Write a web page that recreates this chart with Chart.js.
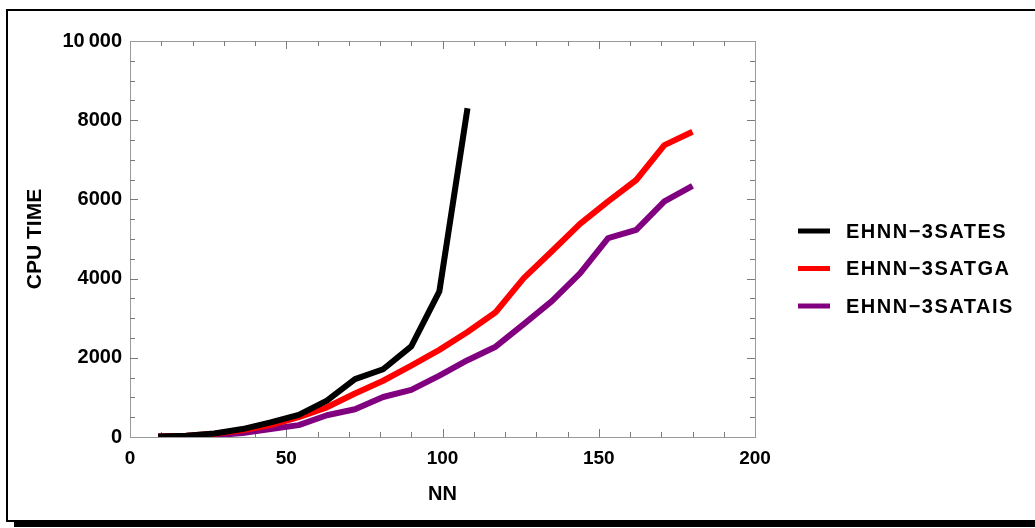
<!DOCTYPE html>
<html>
<head>
<meta charset="utf-8">
<script src="https://cdn.jsdelivr.net/npm/chart.js@4.4.1/dist/chart.umd.min.js"></script>
<style>
  html, body { margin: 0; padding: 0; background: #fff; }
  #frame {
    position: absolute; left: 6px; top: 9px; width: 1100px; height: 509px;
    border: 2px solid #000; box-shadow: 8px 5px 0 #000; background: #fff;
  }
  #chart { position: absolute; left: 0; top: 0; }
</style>
</head>
<body>
<div id="frame"></div>
<canvas id="chart" width="1035" height="528"></canvas>
<script>
// NN values (x axis)
const nn = [9, 18, 27, 36, 45, 54, 63, 72, 81, 90, 99, 108, 117, 126, 135, 144, 153, 162, 171, 180];

// CPU time series
const satES = [10, 30, 90, 200, 370, 560, 920, 1460, 1710, 2290, 3680, 8300];
const satGA = [10, 30, 80, 170, 300, 500, 750, 1100, 1420, 1800, 2200, 2650, 3150, 4010, 4690, 5380, 5950, 6490, 7370, 7710];
const satAIS = [5, 15, 45, 100, 200, 300, 550, 700, 1010, 1190, 1550, 1940, 2280, 2850, 3430, 4130, 5020, 5230, 5950, 6340];

const seriesNames = ['EHNN\u22123SATES', 'EHNN\u22123SATGA', 'EHNN\u22123SATAIS'];
const seriesColors = ['#000000', '#ff0000', '#800080'];

const xTicks = [0, 50, 100, 150, 200];
const yTicks = [0, 2000, 4000, 6000, 8000, 10000];

const toPoints = (vals) => vals.map((v, i) => ({x: nn[i], y: v}));

// frame with small inward ticks, like the original plot
const frameTicks = {
    id: 'frameTicks',
    beforeDatasetsDraw(chart) {
        const {ctx, chartArea: a, scales: {x, y}} = chart;
        ctx.save();
        ctx.strokeStyle = '#9a9a9a';
        ctx.lineWidth = 1;
        ctx.strokeRect(a.left + 0.5, a.top + 0.5, a.right - a.left, a.bottom - a.top);
        ctx.strokeStyle = '#7a7a7a';
        ctx.beginPath();
        for (let v = 10; v < 200; v += 10) {
            const px = Math.round(x.getPixelForValue(v)) + 0.5;
            const len = v % 50 === 0 ? 8 : 5;
            ctx.moveTo(px, a.bottom); ctx.lineTo(px, a.bottom - len);
            ctx.moveTo(px, a.top); ctx.lineTo(px, a.top + len);
        }
        for (let v = 500; v < 10000; v += 500) {
            const py = Math.round(y.getPixelForValue(v)) + 0.5;
            const len = v % 2000 === 0 ? 8 : 5;
            ctx.moveTo(a.left, py); ctx.lineTo(a.left + len, py);
            ctx.moveTo(a.right, py); ctx.lineTo(a.right - len, py);
        }
        ctx.stroke();
        ctx.restore();
    }
};

// legend drawn to the right of the plot
const sideLegend = {
    id: 'sideLegend',
    afterDraw(chart) {
        const ctx = chart.ctx;
        ctx.save();
        ctx.font = 'bold 20px "Liberation Sans", Arial, sans-serif';
        ctx.letterSpacing = '1.5px';
        ctx.textBaseline = 'middle';
        chart.data.datasets.forEach((ds, i) => {
            const yy = 231 + i * 37.5;
            ctx.strokeStyle = ds.borderColor;
            ctx.lineWidth = 5;
            ctx.beginPath();
            ctx.moveTo(798, yy); ctx.lineTo(830, yy);
            ctx.stroke();
            ctx.fillStyle = '#000';
            ctx.fillText(ds.label, 846, yy + 1);
        });
        ctx.restore();
    }
};

const data = {
    datasets: [satES, satGA, satAIS].map((vals, i) => ({
        label: seriesNames[i],
        data: toPoints(vals),
        borderColor: seriesColors[i],
        backgroundColor: seriesColors[i],
        borderWidth: 6,
        pointRadius: 0,
        tension: 0,
        borderJoinStyle: 'round',
        fill: false
    }))
};

const config = {
    type: 'line',
    data: data,
    options: {
        responsive: false,
        animation: false,
        layout: { padding: { top: 41, right: 280, left: 0, bottom: 0 } },
        plugins: { legend: { display: false }, tooltip: { enabled: false } },
        scales: {
            x: {
                type: 'linear',
                min: 0, max: 200,
                afterFit: (s) => { s.height = 91; },
                afterBuildTicks: (s) => { s.ticks = xTicks.map(v => ({value: v})); },
                grid: { display: false, drawTicks: false },
                border: { display: false },
                ticks: {
                    padding: 10,
                    color: '#000',
                    font: { family: '"Liberation Sans Narrow", "Liberation Sans", sans-serif', size: 19, weight: 'bold' }
                },
                title: {
                    display: true, text: 'NN', color: '#000',
                    padding: { top: 0, bottom: 22 },
                    font: { family: '"Liberation Sans", sans-serif', size: 20, weight: 'bold' }
                }
            },
            y: {
                min: 0, max: 10000,
                afterFit: (s) => { s.width = 130; },
                afterBuildTicks: (s) => { s.ticks = yTicks.map(v => ({value: v})); },
                grid: { display: false, drawTicks: false },
                border: { display: false },
                ticks: {
                    padding: 8,
                    color: '#000',
                    font: { family: '"Liberation Sans", Arial, sans-serif', size: 20, weight: 'bold' },
                    callback: (v) => v === 10000 ? '10\u2009000' : String(v)
                },
                title: {
                    display: true, text: 'CPU TIME', color: '#000',
                    padding: { top: 23, bottom: 0 },
                    font: { family: '"Liberation Sans", Arial, sans-serif', size: 21, weight: 'bold' }
                }
            }
        }
    },
    plugins: [frameTicks, sideLegend]
};

const chart = new Chart(document.getElementById('chart'), config);
</script>
</body>
</html>
